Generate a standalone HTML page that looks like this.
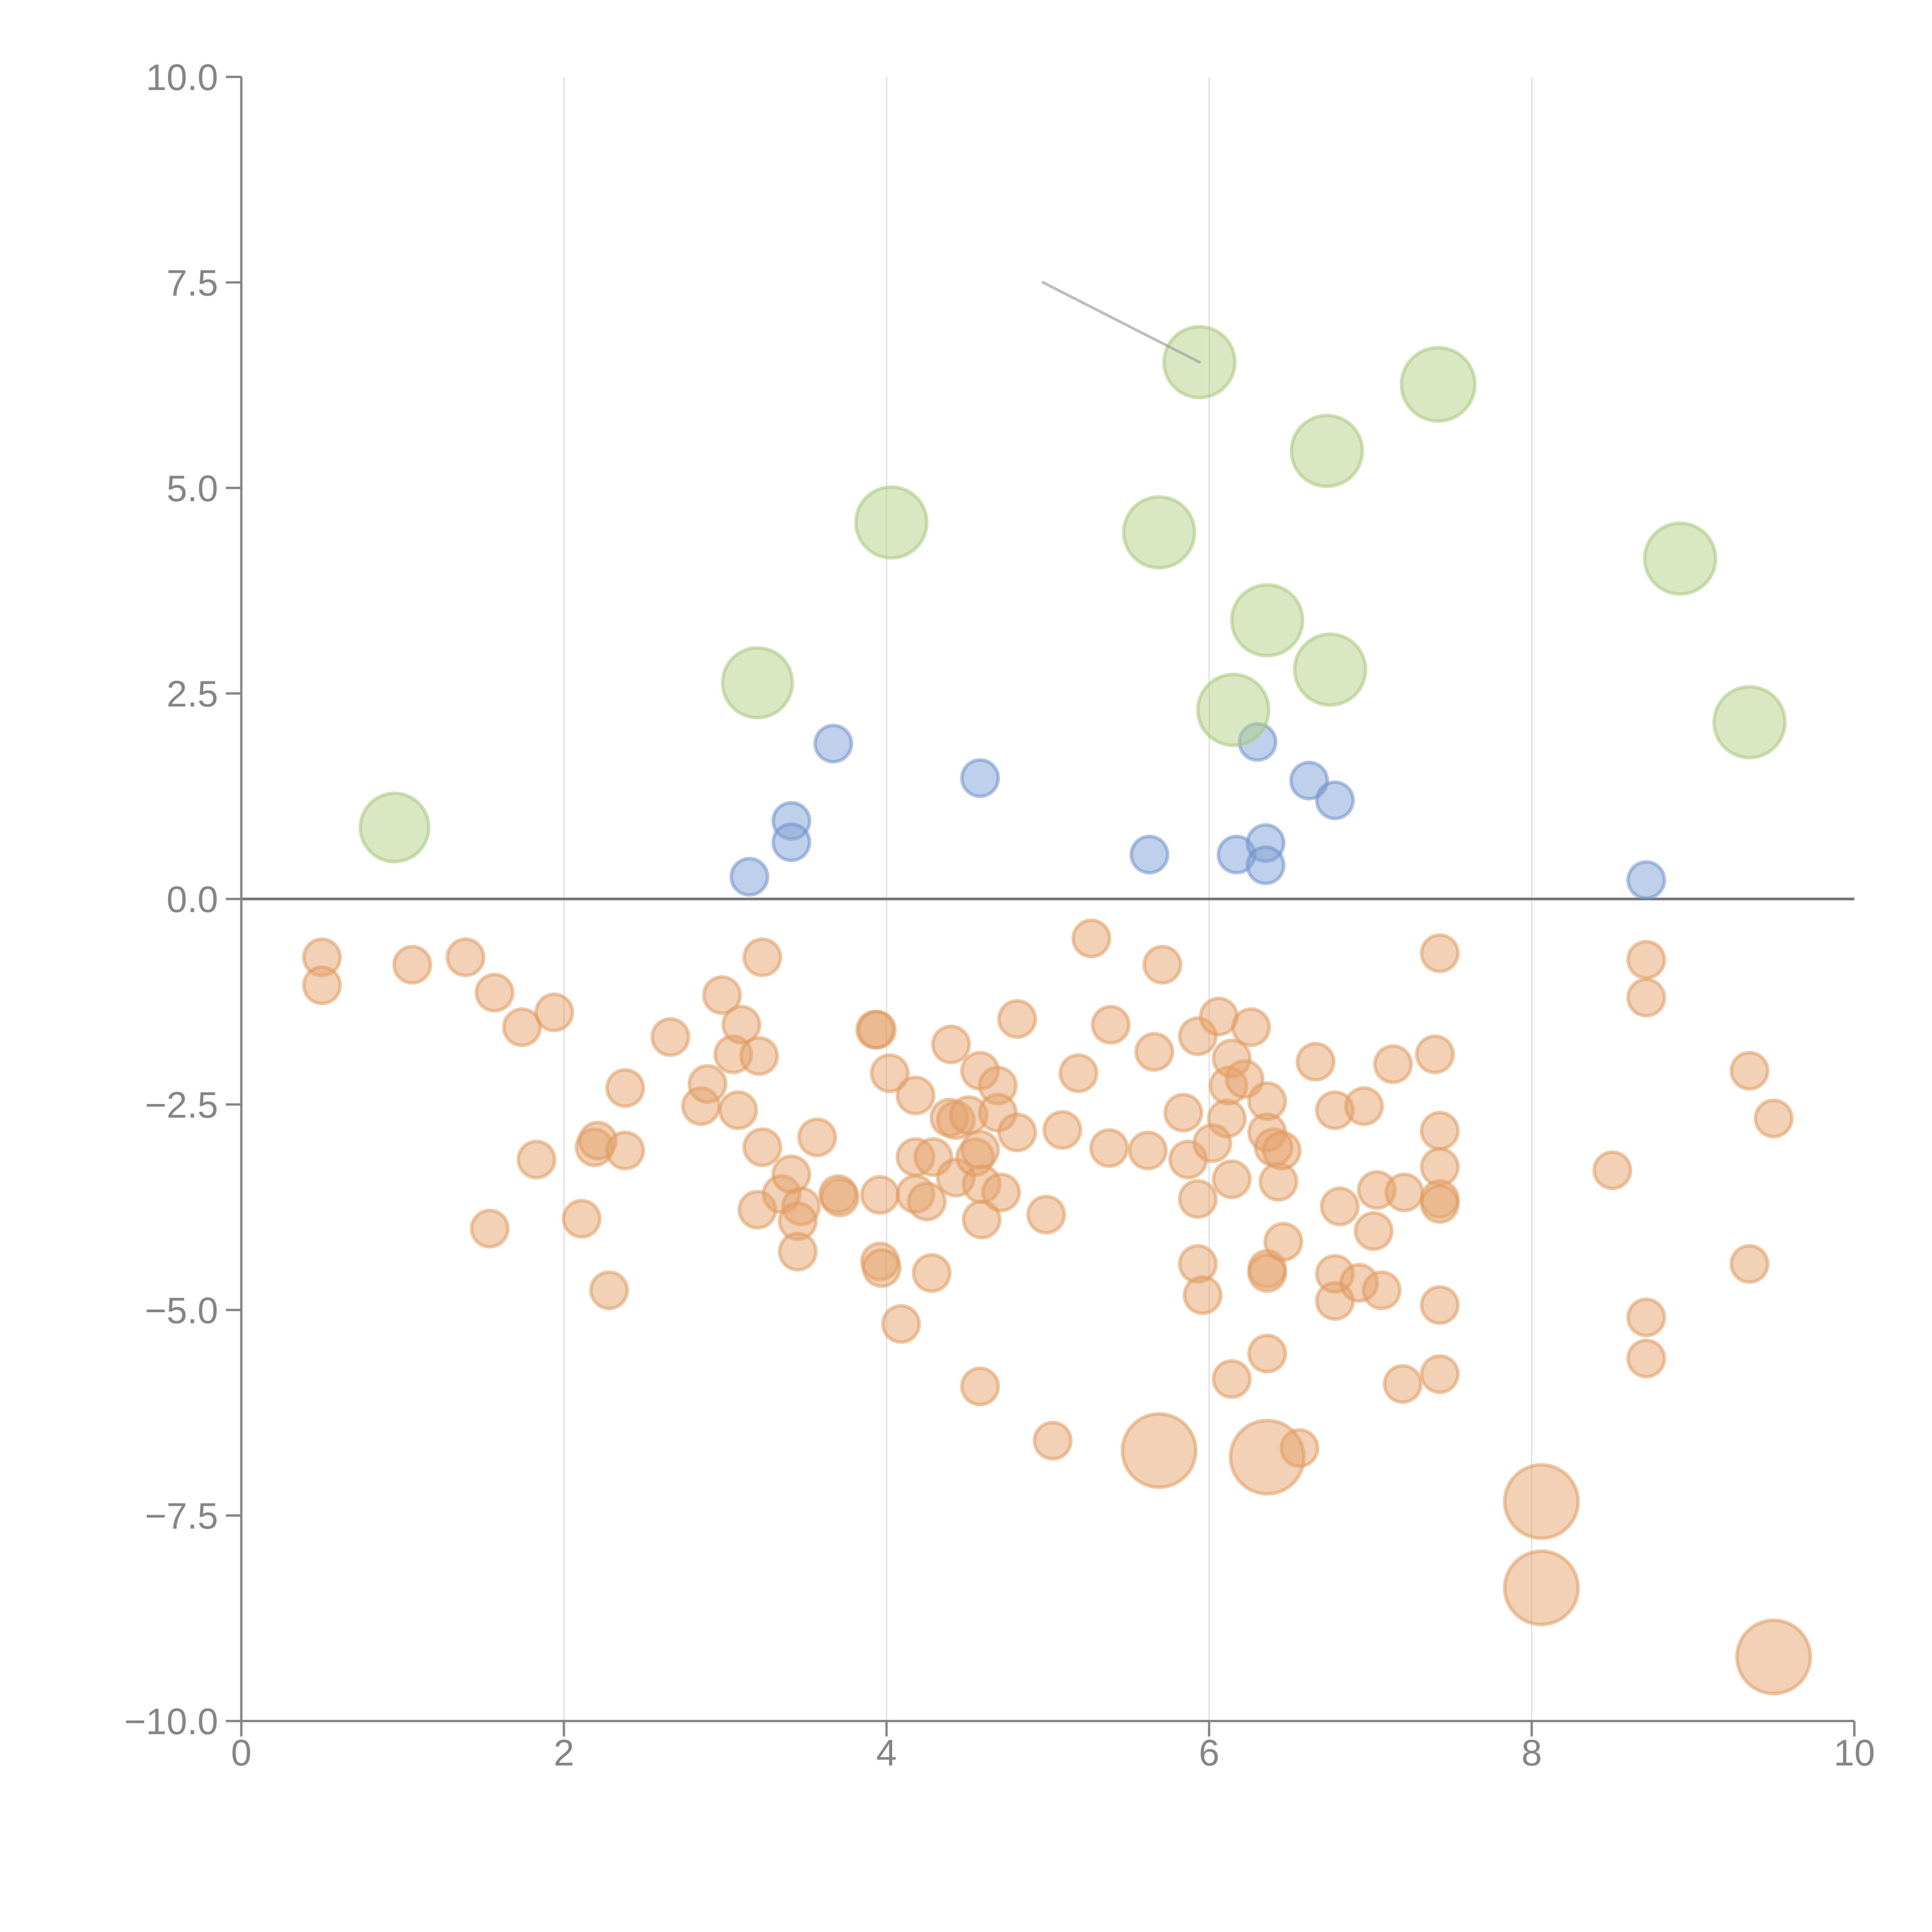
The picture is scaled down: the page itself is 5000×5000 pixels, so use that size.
<!DOCTYPE html>
<html><head><meta charset="utf-8"><style>html,body{margin:0;padding:0;background:#fff}svg{display:block}</style></head>
<body>
<svg id="chart" width="5000" height="5000" viewBox="0 0 5000 5000" xmlns="http://www.w3.org/2000/svg" font-family="'Liberation Sans', sans-serif"></svg>
<script>
const xTicks=[0,2,4,6,8,10];
const xTickLabels=["0","2","4","6","8","10"];
const yTicks=[10,7.5,5,2.5,0,-2.5,-5,-7.5,-10];
const yTickLabels=["10.0","7.5","5.0","2.5","0.0","\u22122.5","\u22125.0","\u22127.5","\u221210.0"];

const blueX=[3.15,3.41,3.41,3.67,4.58,5.63,6.17,6.30,6.35,6.35,6.62,6.78,8.71];
const blueY=[0.27,0.95,0.69,1.89,1.47,0.54,0.54,1.91,0.68,0.41,1.44,1.20,0.23];
const blueS=[1,1,1,1,1,1,1,1,1,1,1,1,1];

const greenX=[0.95,3.20,4.03,5.69,5.94,6.15,6.36,6.73,6.75,7.42,8.92,9.35];
const greenY=[0.87,2.63,4.58,4.46,6.53,2.30,3.39,5.45,2.79,6.26,4.14,2.15];
const greenS=[1.88,1.92,1.95,1.95,1.95,1.95,1.95,1.95,1.95,2.02,1.95,1.95];

const orangeX=[0.50,0.50,1.06,1.39,1.57,1.74,1.94,1.54,1.83,2.11,2.19,2.21,2.28,2.38,2.38,2.66,2.85,2.89,2.98,3.05,3.08,3.10,3.21,3.23,3.23,3.20,3.35,3.41,3.47,3.45,3.45,3.57,3.70,3.71,3.93,3.94,3.96,3.96,3.97,4.02,4.09,4.18,4.18,4.18,4.25,4.28,4.29,4.40,4.39,4.43,4.43,4.51,4.55,4.58,4.58,4.59,4.59,4.58,4.69,4.69,4.71,4.81,4.81,4.99,5.03,5.09,5.19,5.27,5.38,5.39,5.62,5.66,5.71,5.84,5.87,5.93,5.93,5.93,5.96,6.06,6.11,6.12,6.14,6.14,6.14,6.22,6.26,6.02,6.36,6.36,6.36,6.36,6.36,6.40,6.43,6.45,6.46,6.56,6.66,6.78,6.81,6.78,6.78,6.93,6.96,7.02,7.04,7.07,7.14,7.20,7.21,7.40,7.43,7.43,7.43,7.43,7.43,7.43,7.43,8.50,8.71,8.71,8.71,8.71,9.35,9.35,9.50,
5.69,6.36,8.06,8.06,9.50];
const orangeY=[-0.71,-1.05,-0.80,-0.71,-1.14,-1.56,-1.38,-4.01,-3.17,-3.89,-3.02,-2.94,-4.76,-2.30,-3.06,-1.68,-2.52,-2.25,-1.17,-1.89,-2.57,-1.53,-1.91,-0.71,-3.02,-3.78,-3.59,-3.35,-3.74,-3.92,-4.29,-2.90,-3.59,-3.63,-1.59,-1.59,-3.60,-4.41,-4.49,-2.12,-5.17,-2.39,-3.14,-3.59,-3.68,-4.55,-3.14,-1.77,-2.66,-2.69,-3.39,-2.63,-3.14,-3.05,-2.09,-3.47,-3.90,-5.93,-2.27,-2.60,-3.57,-1.46,-2.84,-3.84,-6.59,-2.81,-2.12,-0.48,-3.03,-1.53,-3.06,-1.86,-0.80,-2.60,-3.17,-1.67,-3.65,-4.44,-4.82,-1.43,-2.67,-2.27,-1.94,-3.41,-5.84,-2.19,-1.56,-2.97,-2.46,-2.84,-4.50,-4.55,-5.53,-3.02,-3.44,-3.06,-4.17,-6.68,-1.98,-2.57,-3.74,-4.56,-4.89,-4.67,-2.52,-4.04,-3.54,-4.76,-2.01,-5.90,-3.57,-1.89,-0.66,-2.82,-3.26,-3.65,-3.71,-4.94,-5.78,-3.30,-0.74,-1.20,-5.09,-5.59,-2.09,-4.44,-2.67,
-6.71,-6.79,-7.33,-8.38,-9.22];
const orangeS=orangeX.map((v,i)=>i>=orangeX.length-5?2.02:1);

const annX=[4.97,5.94];
const annY=[7.5,6.53];

const NS="http://www.w3.org/2000/svg";
const svg=document.getElementById('chart');
const X0=624.5,X1=4799,YT=199,YB=4454;
function sx(v){return X0+(v-0)/(10-0)*(X1-X0);}
function sy(v){return YB-(v+10)/20*(YB-YT);}
function rs(s){return 47*s;}
function mk(tag,attrs,parent){const e=document.createElementNS(NS,tag);for(const k in attrs)e.setAttribute(k,attrs[k]);(parent||svg).appendChild(e);return e;}

const grid=mk('g',{});


[2,4,6,8].forEach(v=>{
  const l=mk('line',{x1:sx(v),x2:sx(v),y1:YT,y2:YB,stroke:'#dcdcdc','stroke-width':3},grid);
  
  
});

const zl=mk('line',{x1:sx(0),x2:sx(10),y1:sy(0),y2:sy(0),stroke:'#777','stroke-width':7});



function series(name,xs,ys,ss,fill,stroke){
  const g=mk('g',{});
  
  
  xs.forEach((x,i)=>{
    const c=mk('circle',{cx:sx(x),cy:sy(ys[i]),r:rs(ss[i]),fill:fill,'fill-opacity':0.5,stroke:stroke,'stroke-opacity':0.55,'stroke-width':9},g);
    
    
  });
}
series('orange',orangeX,orangeY,orangeS,'#e4a26c','#e09a5c');
series('blue',blueX,blueY,blueS,'#7e9fd4','#6f92cc');
series('green',greenX,greenY,greenS,'#b4cf88','#a8c77a');

const ann=mk('line',{x1:sx(annX[0]),y1:sy(annY[0]),x2:sx(annX[1]),y2:sy(annY[1]),stroke:'#999','stroke-opacity':0.65,'stroke-width':7,'stroke-linecap':'round'});



const ax=mk('g',{stroke:'#858585','stroke-width':6,fill:'none'});


const ys=mk('line',{x1:X0,x2:X0,y1:YT,y2:YB},ax);


const xs=mk('line',{x1:X0,x2:X1,y1:YB,y2:YB},ax);



xTicks.forEach((v,i)=>{
  const t=mk('line',{x1:sx(v),x2:sx(v),y1:YB,y2:YB+40,stroke:'#858585','stroke-width':6});
  
  
  const tx=mk('text',{x:sx(v),y:YB+115,'text-anchor':'middle','font-size':96,fill:'#858585'});
  tx.textContent=xTickLabels[i];
  
  
});
yTicks.forEach((v,i)=>{
  const t=mk('line',{x1:X0-40,x2:X0,y1:sy(v),y2:sy(v),stroke:'#858585','stroke-width':6});
  
  
  const tx=mk('text',{x:X0-60,y:sy(v)+34,'text-anchor':'end','font-size':96,fill:'#858585'});
  tx.textContent=yTickLabels[i];
  
  
});
</script>
</body></html>
